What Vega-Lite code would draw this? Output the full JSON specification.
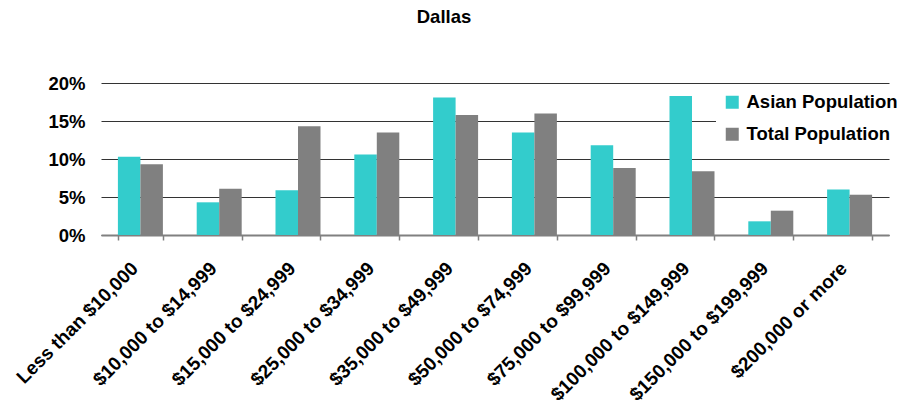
{
  "$schema": "https://vega.github.io/schema/vega-lite/v6.json",
  "autosize": {"type": "none"},
  "width": 788,
  "height": 152,
  "padding": {"left": 101, "top": 83, "right": 8, "bottom": 169},
  "background": "white",
  "title": {
    "text": "Dallas",
    "font": "Liberation Sans",
    "fontSize": 18.5,
    "fontWeight": "bold",
    "color": "black",
    "anchor": "middle",
    "frame": "group",
    "baseline": "alphabetic",
    "offset": 33,
    "dx": -51
  },
  "data": {
    "values": [
      {"category": "Less than $10,000", "series": "Asian Population", "value": 0.103},
      {"category": "Less than $10,000", "series": "Total Population", "value": 0.093},
      {"category": "$10,000 to $14,999", "series": "Asian Population", "value": 0.043},
      {"category": "$10,000 to $14,999", "series": "Total Population", "value": 0.061},
      {"category": "$15,000 to $24,999", "series": "Asian Population", "value": 0.059},
      {"category": "$15,000 to $24,999", "series": "Total Population", "value": 0.143},
      {"category": "$25,000 to $34,999", "series": "Asian Population", "value": 0.106},
      {"category": "$25,000 to $34,999", "series": "Total Population", "value": 0.135},
      {"category": "$35,000 to $49,999", "series": "Asian Population", "value": 0.181},
      {"category": "$35,000 to $49,999", "series": "Total Population", "value": 0.158},
      {"category": "$50,000 to $74,999", "series": "Asian Population", "value": 0.135},
      {"category": "$50,000 to $74,999", "series": "Total Population", "value": 0.160},
      {"category": "$75,000 to $99,999", "series": "Asian Population", "value": 0.118},
      {"category": "$75,000 to $99,999", "series": "Total Population", "value": 0.088},
      {"category": "$100,000 to $149,999", "series": "Asian Population", "value": 0.183},
      {"category": "$100,000 to $149,999", "series": "Total Population", "value": 0.084},
      {"category": "$150,000 to $199,999", "series": "Asian Population", "value": 0.018},
      {"category": "$150,000 to $199,999", "series": "Total Population", "value": 0.032},
      {"category": "$200,000 or more", "series": "Asian Population", "value": 0.060},
      {"category": "$200,000 or more", "series": "Total Population", "value": 0.053}
    ]
  },
  "mark": {"type": "bar"},
  "encoding": {
    "x": {
      "field": "category",
      "type": "nominal",
      "sort": null,
      "scale": {"paddingInner": 0.429, "paddingOuter": 0.2145},
      "axis": {
        "title": null,
        "labelAngle": -45,
        "labelAlign": "right",
        "labelBaseline": "middle",
        "labelFont": "Liberation Sans",
        "labelFontSize": 19,
        "labelFontWeight": "bold",
        "labelColor": "black",
        "labelPadding": 25,
        "labelOffset": -6,
        "labelLimit": 400,
        "tickBand": "extent",
        "tickSize": 5,
        "tickColor": "#808080",
        "tickWidth": 1.5,
        "domainColor": "#808080",
        "domainWidth": 2,
        "grid": false
      }
    },
    "xOffset": {
      "field": "series",
      "type": "nominal",
      "sort": ["Asian Population", "Total Population"]
    },
    "y": {
      "field": "value",
      "type": "quantitative",
      "scale": {"domain": [0, 0.2], "nice": false},
      "axis": {
        "title": null,
        "values": [0, 0.05, 0.1, 0.15, 0.2],
        "format": ".0%",
        "labelFont": "Liberation Sans",
        "labelFontSize": 18.5,
        "labelFontWeight": "bold",
        "labelColor": "black",
        "labelPadding": 16,
        "ticks": false,
        "domain": false,
        "grid": true,
        "gridColor": "#333333",
        "gridWidth": 1
      }
    },
    "color": {
      "field": "series",
      "type": "nominal",
      "sort": ["Asian Population", "Total Population"],
      "scale": {"domain": ["Asian Population", "Total Population"], "range": ["#33CCCC", "#808080"]},
      "legend": {
        "title": null,
        "orient": "none",
        "legendX": 615,
        "legendY": 3,
        "fillColor": "white",
        "padding": 7,
        "symbolType": "square",
        "symbolSize": 169,
        "symbolStrokeWidth": 0,
        "symbolOpacity": 1,
        "labelFont": "Liberation Sans",
        "labelFontSize": 18.5,
        "labelFontWeight": "bold",
        "labelColor": "black",
        "labelOffset": 5,
        "labelLimit": 400,
        "rowPadding": 13
      }
    }
  },
  "config": {"view": {"stroke": null}}
}
